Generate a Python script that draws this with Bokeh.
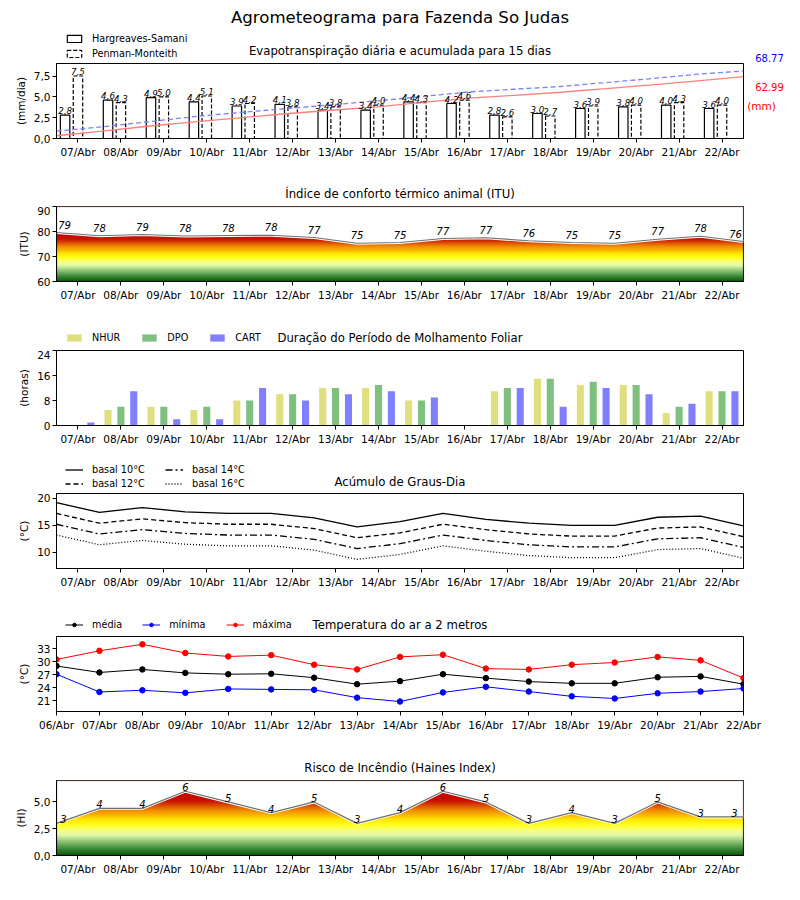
import numpy as np
from bokeh.plotting import figure
from bokeh.layouts import column, row
from bokeh.models import (Range1d, FixedTicker, Legend, LegendItem, ColumnDataSource,
                          BoxAnnotation)
from bokeh.embed import file_html
from bokeh.resources import INLINE
from bokeh.core.properties import value

FONT = "DejaVu Sans"

# ---------------- data ----------------
days = ["06/Abr", "07/Abr", "08/Abr", "09/Abr", "10/Abr", "11/Abr", "12/Abr", "13/Abr",
        "14/Abr", "15/Abr", "16/Abr", "17/Abr", "18/Abr", "19/Abr", "20/Abr", "21/Abr", "22/Abr"]

et_hs = [2.8, 4.6, 4.9, 4.4, 3.9, 4.1, 3.4, 3.4, 4.4, 4.2, 2.8, 3.0, 3.6, 3.8, 4.0, 3.6]
et_pm = [7.5, 4.3, 5.0, 5.1, 4.2, 3.8, 3.8, 4.0, 4.3, 4.6, 2.6, 2.7, 3.9, 4.0, 4.3, 4.0]
et_hs_acum = [2.8, 7.5, 12.5, 17.0, 21.0, 25.2, 28.8, 32.3, 36.8, 41.1, 44.0, 47.1, 50.8, 54.7, 58.8, 62.99]
et_pm_acum = [7.5, 11.9, 17.0, 22.2, 26.5, 30.4, 34.3, 38.4, 42.8, 47.5, 50.2, 53.0, 57.0, 61.1, 65.5, 68.77]
et_hs_total = "62.99"
et_pm_total = "68.77"

itu = [79.6, 78.3, 78.8, 78.2, 78.4, 78.5, 77.6, 75.3, 75.6, 77.2, 77.5, 76.3, 75.6, 75.3, 76.9, 78.1, 76.0]
itu_labels = ["79", "78", "79", "78", "78", "78", "77", "75", "75", "77", "77", "76", "75", "75", "77", "78", "76"]

nhur = [0, 5, 6, 5, 8, 10, 12, 12, 8, 0, 11, 15, 13, 13, 4, 11]
dpo = [0, 6, 6, 6, 8, 10, 12, 13, 8, 0, 12, 15, 14, 13, 6, 11]
cart = [1, 11, 2, 2, 12, 8, 10, 11, 9, 0, 12, 6, 12, 10, 7, 11]

gd10 = [19.2, 17.4, 18.3, 17.5, 17.2, 17.2, 16.4, 14.7, 15.7, 17.2, 16.1, 15.4, 15.0, 15.0, 16.5, 16.7, 14.9]
gd12 = [17.2, 15.4, 16.2, 15.5, 15.2, 15.2, 14.4, 12.7, 13.6, 15.2, 14.2, 13.4, 13.0, 13.0, 14.5, 14.7, 12.9]
gd14 = [15.2, 13.4, 14.2, 13.5, 13.2, 13.2, 12.4, 10.7, 11.6, 13.2, 12.2, 11.4, 11.0, 11.0, 12.5, 12.7, 10.9]
gd16 = [13.2, 11.4, 12.2, 11.5, 11.2, 11.2, 10.4, 8.7, 9.6, 11.2, 10.2, 9.4, 9.0, 9.0, 10.5, 10.7, 8.9]

t_med = [29.0, 27.5, 28.2, 27.4, 27.1, 27.2, 26.3, 24.8, 25.5, 27.1, 26.2, 25.4, 25.0, 25.0, 26.4, 26.6, 24.8]
t_min = [27.1, 23.0, 23.4, 22.8, 23.7, 23.6, 23.5, 21.7, 20.8, 22.9, 24.2, 23.1, 22.0, 21.5, 22.7, 23.1, 23.8]
t_max = [30.5, 32.5, 34.0, 32.0, 31.2, 31.5, 29.3, 28.2, 31.1, 31.6, 28.4, 28.2, 29.3, 29.8, 31.1, 30.3, 26.2]

haines = [3.0, 4.4, 4.4, 6.0, 5.0, 4.0, 5.0, 3.0, 4.0, 6.0, 5.0, 3.0, 4.0, 3.0, 5.0, 3.6, 3.6]
haines_labels = ["3", "4", "4", "6", "5", "4", "5", "3", "4", "6", "5", "3", "4", "3", "5", "3", "3"]

# ---------------- helpers ----------------
NDAYS = len(et_hs)
x_pts = np.arange(NDAYS + 1, dtype=float)
x_mid = np.arange(NDAYS, dtype=float) + 0.5
x_acum = np.linspace(0, NDAYS, len(et_hs_acum))

PAGE_W = 800
FRAME_W = 687
FRAME_H = 75
LEFT = 56
RIGHT = PAGE_W - LEFT - FRAME_W
BOTTOM = 24
P1_RIGHT = 2
OFF = -1000.0  # legend proxies drawn outside the visible range

STOPS = [(0.00, (10, 90, 10)), (0.07, (40, 120, 40)), (0.15, (90, 160, 80)),
         (0.24, (160, 210, 130)), (0.32, (225, 250, 170)), (0.40, (250, 255, 120)),
         (0.47, (255, 255, 30)), (0.56, (255, 230, 0)), (0.63, (248, 180, 0)),
         (0.70, (240, 140, 0)), (0.77, (220, 80, 0)), (0.84, (200, 20, 0)),
         (1.00, (192, 0, 0))]


def cmap(t):
    t = min(max(t, 0.0), 1.0)
    for (t0, c0), (t1, c1) in zip(STOPS[:-1], STOPS[1:]):
        if t <= t1:
            f = (t - t0) / (t1 - t0) if t1 > t0 else 0
            return tuple(int(round(a + (b - a) * f)) for a, b in zip(c0, c1))
    return STOPS[-1][1]


def gradient_image(ymin, ymax, vmin, vmax, rows=300):
    img = np.empty((rows, 1), dtype=np.uint32)
    view = img.view(dtype=np.uint8).reshape((rows, 1, 4))
    for i in range(rows):
        y = ymin + (i + 0.5) * (ymax - ymin) / rows
        r, g, b = cmap((y - vmin) / (vmax - vmin))
        view[i, 0, :] = (r, g, b, 255)
    return img


def make_fig(ymin, ymax, ylabel, right=RIGHT):
    p = figure(frame_width=FRAME_W, frame_height=FRAME_H, title=None,
               x_range=Range1d(0, NDAYS), y_range=Range1d(ymin, ymax),
               output_backend="svg", toolbar_location=None,
               min_border_left=LEFT, min_border_right=right,
               min_border_top=0, min_border_bottom=BOTTOM)
    p.xgrid.visible = False
    p.ygrid.visible = False
    p.outline_line_color = "black"
    p.outline_line_alpha = 1
    p.outline_line_width = 1
    p.background_fill_color = "white"
    for ax in p.axis:
        ax.major_label_text_font = FONT
        ax.major_label_text_font_size = "10.5px"
        ax.major_label_text_color = "black"
        ax.major_tick_out = 4
        ax.major_tick_in = 0
        ax.minor_tick_out = 0
        ax.minor_tick_in = 0
        ax.axis_line_color = "black"
        ax.major_tick_line_color = "black"
        ax.major_label_standoff = 2
    p.xaxis.major_label_standoff = 3
    p.yaxis.axis_label = ylabel
    p.yaxis.axis_label_text_font = FONT
    p.yaxis.axis_label_text_font_size = "10.5px"
    p.yaxis.axis_label_text_font_style = "normal"
    p.yaxis.axis_label_text_color = "black"
    p.yaxis.axis_label_standoff = 4
    p.xaxis.ticker = FixedTicker(ticks=list(x_mid))
    p.xaxis.major_label_overrides = {float(x): days[i + 1] for i, x in enumerate(x_mid)}
    return p


def make_canvas(h, x0, x1, bl, br):
    """Axis-less figure; x in page pixels, y in pixels from the canvas bottom."""
    c = figure(frame_width=x1 - x0, frame_height=h, title=None, x_range=Range1d(x0, x1),
               y_range=Range1d(0, h), x_axis_type=None, y_axis_type=None,
               output_backend="svg", toolbar_location=None,
               min_border_left=bl, min_border_right=br, min_border_top=0, min_border_bottom=0)
    c.outline_line_color = None
    c.background_fill_color = "white"
    c.border_fill_color = "white"
    return c


def header(h, title, ty, br=RIGHT):
    c = make_canvas(h, LEFT, LEFT + FRAME_W, LEFT, br)
    c.text(x=[LEFT + FRAME_W / 2], y=[h - ty], text=[title], text_align="center",
           text_baseline="middle", text_font=value(FONT), text_font_size="11.7px",
           text_color="black")
    return c


def style_legend(leg, orientation="vertical", spacing=None):
    leg.orientation = orientation
    leg.background_fill_alpha = 0
    leg.border_line_alpha = 0
    leg.padding = 0
    leg.margin = 0
    leg.label_text_font = FONT
    leg.label_text_font_size = "9.7px"
    leg.label_text_color = "black"
    leg.label_height = 12
    leg.glyph_height = 9
    leg.glyph_width = 18
    leg.label_standoff = 9
    leg.spacing = spacing if spacing is not None else (3 if orientation == "vertical" else 20)
    return leg


def comma(v):
    return f"{v:.1f}".replace(".", ",")


def frame_box(p, ymin, ymax):
    p.add_layout(BoxAnnotation(left=0, right=NDAYS, bottom=ymin, top=ymax, fill_alpha=0,
                               line_color="black", line_width=1.5, level="overlay"))


LEG_X = 65 - LEFT

# ---------------- 1. Evapotranspiração ----------------
H1 = 63
h1 = header(H1, "Evapotranspiração diária e acumulada para 15 dias", 50, br=P1_RIGHT)
h1.text(x=[LEFT + FRAME_W / 2], y=[H1 - 17], text=["Agrometeograma para Fazenda So Judas"],
        text_align="center", text_baseline="middle", text_font=value(FONT),
        text_font_size="16.6px", text_color="black")
q_hs = h1.vbar(x=[OFF], top=[OFF], width=1, fill_color="white", line_color="black",
               line_width=1.2)
q_pm = h1.vbar(x=[OFF], top=[OFF], width=1, fill_color="white", line_color="black",
               line_width=1.2, line_dash="4 2")
h1.add_layout(style_legend(Legend(items=[LegendItem(label="Hargreaves-Samani", renderers=[q_hs]),
                                         LegendItem(label="Penman-Monteith", renderers=[q_pm])],
                                  location=(LEG_X, 4))))

p1 = make_fig(0, 9.0, "(mm/dia)", right=P1_RIGHT)
p1.extra_y_ranges = {"acum": Range1d(0, float(et_pm_total) / 0.9)}
p1.yaxis.ticker = FixedTicker(ticks=[0, 2.5, 5, 7.5])
p1.yaxis.major_label_overrides = {0: "0,0", 2.5: "2,5", 5: "5,0", 7.5: "7,5"}
p1.vbar(x=x_mid - 0.3, top=et_hs, width=0.22, fill_color="white",
        line_color="black", line_width=1.2)
p1.vbar(x=x_mid, top=et_pm, width=0.22, fill_color="white",
        line_color="black", line_width=1.2, line_dash="4 2")
p1.line(x=x_acum, y=et_hs_acum, y_range_name="acum", line_color="#ff7f7f", line_width=1.3)
p1.line(x=x_acum, y=et_pm_acum, y_range_name="acum", line_color="#7f7fff", line_width=1.3,
        line_dash="5 3")
lab_src = ColumnDataSource(dict(
    x=list(x_mid - 0.3) + list(x_mid),
    y=et_hs + et_pm,
    t=[comma(v) for v in et_hs] + [comma(v) for v in et_pm]))
p1.text(x="x", y="y", text="t", source=lab_src, text_align="center", text_baseline="bottom",
        text_font=value(FONT), text_font_size="8.7px", text_font_style="italic",
        text_color="black", y_offset=-1)

# side strip right of panel 1 (totals of the accumulated curves)
S_H = H1 + FRAME_H + BOTTOM
S_X0 = LEFT + FRAME_W + P1_RIGHT
s1 = make_canvas(S_H, S_X0, PAGE_W, 0, 0)
for txt, px, py, col, fs in [(et_pm_total, 769, 57.5, "#0000ff", "10px"),
                             (et_hs_total, 769, 86, "#ff0000", "10px"),
                             ("(mm)", 761, 105, "#ff0000", "10.5px")]:
    s1.text(x=[px], y=[S_H - py], text=[txt], text_align="center", text_baseline="middle",
            text_font=value(FONT), text_font_size=fs, text_color=col)

# ---------------- 2. ITU ----------------
h2 = header(44, "Índice de conforto térmico animal (ITU)", 31)
p2 = make_fig(60, 90, "(ITU)")
p2.yaxis.ticker = FixedTicker(ticks=[60, 70, 80, 90])
p2.image_rgba(image=[gradient_image(60, 90, 60, 80)], x=0, y=60, dw=NDAYS, dh=30)
p2.varea(x=x_pts, y1=itu, y2=[90] * len(itu), fill_color="white")
p2.line(x=x_pts, y=itu, line_color="white", line_width=3)
p2.line(x=x_pts, y=itu, line_color="#707070", line_width=1.2)
off_itu = [8] + [0] * (len(itu) - 2) + [-8]
p2.text(x="x", y="y", text="t", x_offset="o",
        source=ColumnDataSource(dict(x=x_pts, y=itu, t=itu_labels, o=off_itu)),
        text_align="center", text_baseline="bottom", text_font=value(FONT),
        text_font_size="10px", text_font_style="italic", text_color="black", y_offset=-4)
frame_box(p2, 60, 90)

# ---------------- 3. Molhamento ----------------
h3 = header(45, "Duração do Período de Molhamento Foliar", 32)
cols3 = ["#dfdf7f", "#7fbf7f", "#7f7fff"]
qs3 = [h3.vbar(x=[OFF], top=[OFF], width=1, fill_color=c, line_color=None) for c in cols3]
h3.add_layout(style_legend(Legend(items=[LegendItem(label=l, renderers=[q]) for l, q in
                                         zip(["NHUR", "DPO", "CART"], qs3)],
                                  location=(LEG_X, 7)), "horizontal"))
p3 = make_fig(0, 24, "(horas)")
p3.yaxis.ticker = FixedTicker(ticks=[0, 8, 16, 24])
p3.vbar(x=x_mid - 0.3, top=nhur, width=0.165, fill_color=cols3[0], line_color=None)
p3.vbar(x=x_mid, top=dpo, width=0.165, fill_color=cols3[1], line_color=None)
p3.vbar(x=x_mid + 0.3, top=cart, width=0.165, fill_color=cols3[2], line_color=None)

# ---------------- 4. Graus-Dia ----------------
h4 = header(44, "Acúmulo de Graus-Dia", 32)
dashes = ["solid", "5 3", "7 3 2 3", "1 2"]
qs4 = [h4.line(x=[OFF, OFF], y=[OFF, OFF], line_color="black", line_width=1.3, line_dash=d)
       for d in dashes]
h4.add_layout(style_legend(Legend(items=[LegendItem(label="basal 10°C", renderers=[qs4[0]]),
                                         LegendItem(label="basal 12°C", renderers=[qs4[1]])],
                                  location=(LEG_X, 4)), spacing=2))
h4.add_layout(style_legend(Legend(items=[LegendItem(label="basal 14°C", renderers=[qs4[2]]),
                                         LegendItem(label="basal 16°C", renderers=[qs4[3]])],
                                  location=(LEG_X + 100, 4)), spacing=2))
p4 = make_fig(7.0, 20.9, "(°C)")
p4.yaxis.ticker = FixedTicker(ticks=[10, 15, 20])
for ser, d in zip([gd10, gd12, gd14, gd16], dashes):
    p4.line(x=x_pts, y=ser, line_color="black", line_width=1.3, line_dash=d)

# ---------------- 5. Temperatura ----------------
h5 = header(44, "Temperatura do ar a 2 metros", 32)
tcols = ["black", "#0000ff", "#ff0000"]
items5 = []
for lab, col in zip(["média", "mínima", "máxima"], tcols):
    ql = h5.line(x=[OFF, OFF], y=[OFF, OFF], line_color=col, line_width=1)
    qm = h5.scatter(x=[OFF], y=[OFF], size=5.5, fill_color=col, line_color=col)
    items5.append(LegendItem(label=lab, renderers=[ql, qm]))
h5.add_layout(style_legend(Legend(items=items5, location=(LEG_X, 6)), "horizontal"))
p5 = make_fig(18.5, 35.8, "(°C)")
p5.yaxis.ticker = FixedTicker(ticks=[21, 24, 27, 30, 33])
p5.xaxis.ticker = FixedTicker(ticks=list(x_pts))
p5.xaxis.major_label_overrides = {float(x): days[i] for i, x in enumerate(x_pts)}
for ser, col in zip([t_med, t_min, t_max], tcols):
    p5.line(x=x_pts, y=ser, line_color=col, line_width=1)
    p5.scatter(x=x_pts, y=ser, size=5.5, fill_color=col, line_color=col)

# ---------------- 6. Haines ----------------
h6 = header(45, "Risco de Incêndio (Haines Index)", 32)
p6 = make_fig(0, 7.0, "(HI)")
p6.yaxis.ticker = FixedTicker(ticks=[0, 2.5, 5])
p6.yaxis.major_label_overrides = {0: "0,0", 2.5: "2,5", 5: "5,0"}
p6.image_rgba(image=[gradient_image(0, 7, 0, 6)], x=0, y=0, dw=NDAYS, dh=7)
p6.varea(x=x_pts, y1=haines, y2=[7.0] * len(haines), fill_color="white")
p6.line(x=x_pts, y=haines, line_color="white", line_width=3)
p6.line(x=x_pts, y=haines, line_color="#707070", line_width=1.2)
off_h = [7] + [0] * (len(haines) - 2) + [-9]
p6.text(x="x", y="y", text="t", x_offset="o",
        source=ColumnDataSource(dict(x=x_pts, y=haines, t=haines_labels, o=off_h)),
        text_align="center", text_baseline="bottom", text_font=value(FONT),
        text_font_size="10px", text_font_style="italic", text_color="black", y_offset=0)
frame_box(p6, 0, 7.0)

top_block = row(column(h1, p1, spacing=0), s1, spacing=0)
layout = column(top_block, h2, p2, h3, p3, h4, p4, h5, p5, h6, p6, spacing=0)
open("out.html", "w").write(file_html(layout, INLINE, title="Agrometeograma"))
